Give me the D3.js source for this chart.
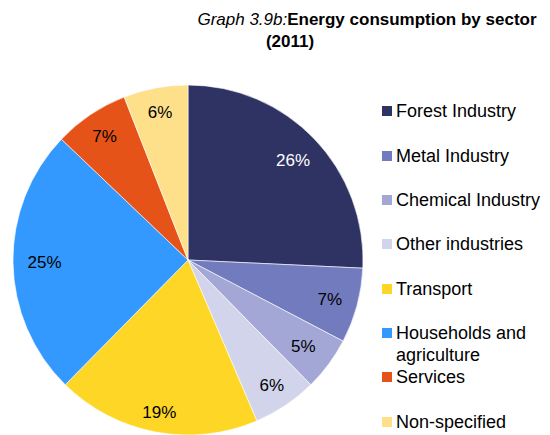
<!DOCTYPE html>
<html>
<head>
<meta charset="utf-8">
<script src="https://cdn.jsdelivr.net/npm/d3@7"></script>
<style>
  html, body { margin: 0; padding: 0; background: #fff; }
  svg { display: block; font-family: "Liberation Sans", Arial, sans-serif; }
</style>
</head>
<body>
<svg id="chart" width="550" height="435"></svg>
<script>
// Energy consumption by sector, 2011 (percent shares)
const sectors = ["Forest Industry", "Metal Industry", "Chemical Industry", "Other industries",
                 "Transport", "Households and agriculture", "Services", "Non-specified"];
const shares = [26, 7, 5, 6, 19, 25, 7, 6];
const colors = ["#2e3363", "#737bbf", "#a2a7d6", "#d2d4eb", "#fed626", "#3399fe", "#e65319", "#fee08a"];
const legendLines = [["Forest Industry"], ["Metal Industry"], ["Chemical Industry"], ["Other industries"],
                     ["Transport"], ["Households and", "agriculture"], ["Services"], ["Non-specified"]];
// radial position of each percentage label, as a fraction of the pie radius
const labelRadius = [0.83, 0.84, 0.82, 0.86, 0.885, 0.82, 0.855, 0.86];

const svg = d3.select("#chart");

// Title
const title = svg.append("text").attr("text-anchor", "middle").attr("font-size", 17).attr("fill", "#000");
title.append("tspan").attr("x", 367).attr("y", 25)
  .call(t => {
    t.append("tspan").attr("font-style", "italic").text("Graph 3.9b:");
    t.append("tspan").attr("font-weight", "bold").text("Energy consumption by sector");
  });
svg.append("text").attr("x", 290).attr("y", 47).attr("text-anchor", "middle")
  .attr("font-size", 17).attr("font-weight", "bold").text("(2011)");

// Pie
const cx = 188, cy = 260, R = 175;
const pie = d3.pie().sort(null).value(d => d.v);
const data = pie(sectors.map((s, i) => ({ s, v: shares[i], c: colors[i] })));
const arc = d3.arc().innerRadius(0).outerRadius(R);

const g = svg.append("g").attr("transform", `translate(${cx},${cy})`);
g.selectAll("path").data(data).join("path")
  .attr("d", arc)
  .attr("fill", d => d.data.c)
  .attr("stroke", "#ffffff")
  .attr("stroke-width", 0.6);

g.selectAll("text").data(data).join("text")
  .attr("transform", (d, i) => {
    const r = R * labelRadius[i];
    return `translate(${d3.arc().innerRadius(r).outerRadius(r).centroid(d)})`;
  })
  .attr("text-anchor", "middle")
  .attr("dy", "0.36em")
  .attr("font-size", 17)
  .attr("fill", (d, i) => i === 0 ? "#ffffff" : "#000000")
  .text(d => d.data.v + "%");

// Legend
const legendY = [111, 156, 200, 244, 289, 333, 377, 422];
const lg = svg.append("g");
legendLines.forEach((lines, i) => {
  const y = legendY[i];
  lg.append("rect").attr("x", 382).attr("y", y - 5).attr("width", 10).attr("height", 10)
    .attr("fill", colors[i]);
  lines.forEach((ln, j) => {
    lg.append("text").attr("x", 396).attr("y", y + j * 22).attr("dy", "0.36em")
      .attr("font-size", 18).attr("fill", "#000").text(ln);
  });
});
</script>
</body>
</html>
